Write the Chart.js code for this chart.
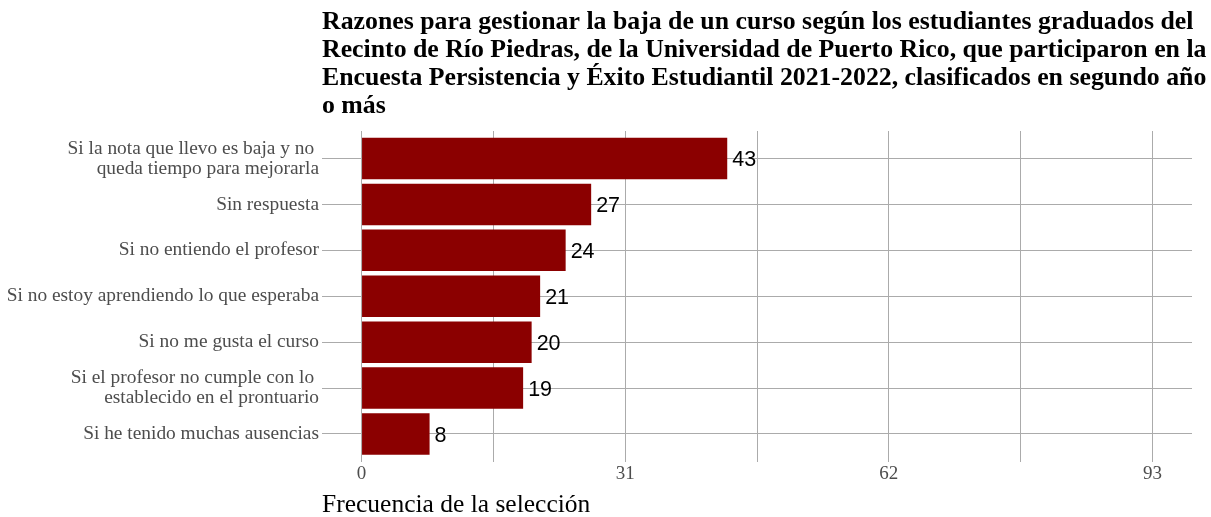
<!DOCTYPE html>
<html><head><meta charset="utf-8">
<script src="https://cdn.jsdelivr.net/npm/chart.js@4.4.1/dist/chart.umd.min.js"></script>
<style>html,body{margin:0;padding:0;background:#fff}#wrap{width:1211px;height:517px;position:relative}</style>
</head><body><div id="wrap"><canvas id="c" width="1211" height="517"></canvas></div>
<script>
const titleLines = [
  "Razones para gestionar la baja de un curso según los estudiantes graduados del",
  "Recinto de Río Piedras, de la Universidad de Puerto Rico, que participaron en la",
  "Encuesta Persistencia y Éxito Estudiantil 2021-2022, clasificados en segundo año",
  "o más"
];
const categories = [
  ["Si la nota que llevo es baja y no ", "queda tiempo para mejorarla"],
  ["Sin respuesta"],
  ["Si no entiendo el profesor"],
  ["Si no estoy aprendiendo lo que esperaba"],
  ["Si no me gusta el curso"],
  ["Si el profesor no cumple con lo ", "establecido en el prontuario"],
  ["Si he tenido muchas ausencias"]
];
const values = [43, 27, 24, 21, 20, 19, 8];
const xTicks = [0, 31, 62, 93];
const xMinorTicks = [15.5, 46.5, 77.5];
const xAxisTitle = "Frecuencia de la selección";

const SERIF = "'Liberation Serif','Times New Roman',serif";
const SANS = "'Liberation Sans',Arial,sans-serif";

const titlePlugin = {
  id: 'customTitle',
  afterDraw(chart) {
    const ctx = chart.ctx;
    ctx.save();
    ctx.font = "bold 25.8px " + SERIF;
    ctx.fillStyle = "#000";
    ctx.textAlign = "left";
    ctx.textBaseline = "middle";
    titleLines.forEach((l, i) => ctx.fillText(l, chart.chartArea.left, 22 + i * 28));
    ctx.restore();
  }
};
const valueLabels = {
  id: 'valueLabels',
  afterDatasetsDraw(chart) {
    const ctx = chart.ctx;
    const meta = chart.getDatasetMeta(0);
    ctx.save();
    ctx.font = "21.5px " + SANS;
    ctx.fillStyle = "#000";
    ctx.textAlign = "left";
    ctx.textBaseline = "middle";
    meta.data.forEach((bar, i) => {
      ctx.fillText(String(values[i]), bar.x + 5, bar.y + 2);
    });
    ctx.restore();
  }
};

const allX = xTicks.concat(xMinorTicks).sort((a, b) => a - b);
const X_MIN = -4.65, X_MAX = 97.65, Y_MIN = -0.6, Y_MAX = categories.length - 1 + 0.6;

new Chart(document.getElementById('c'), {
  type: 'bar',
  data: {
    datasets: [{
      data: values.map((v, i) => ({ x: v, y: i })),
      backgroundColor: '#8B0000',
      borderWidth: 0,
      barPercentage: 0.905,
      categoryPercentage: 1.0
    }]
  },
  options: {
    indexAxis: 'y',
    responsive: false,
    animation: false,
    layout: { padding: { top: 131, right: 19, left: 0, bottom: 0 } },
    plugins: { legend: { display: false }, tooltip: { enabled: false }, title: { display: false } },
    scales: {
      x: {
        type: 'linear',
        bounds: 'data',
        offset: false,
        min: X_MIN, max: X_MAX,
        afterBuildTicks(s) { s.ticks = allX.map(v => ({ value: v })); s.min = X_MIN; s.max = X_MAX; },
        afterFit(s) { s.height = 55.5; },
        ticks: {
          autoSkip: false, maxRotation: 0, padding: 1,
          color: '#4d4d4d',
          font: { family: SERIF, size: 19 },
          callback: v => xTicks.includes(v) ? String(v) : ''
        },
        grid: { color: '#ababab', lineWidth: 1, drawTicks: false, offset: false },
        border: { display: false },
        title: {
          display: true, text: xAxisTitle, align: 'start',
          color: '#000', font: { family: SERIF, size: 25.5 }, padding: { top: 6, bottom: -4 }
        }
      },
      y: {
        type: 'linear',
        bounds: 'data',
        reverse: true,
        offset: false,
        min: Y_MIN, max: Y_MAX,
        afterBuildTicks(s) { s.ticks = categories.map((c, i) => ({ value: i })); s.min = Y_MIN; s.max = Y_MAX; },
        afterFit(s) { s.width = 322; },
        ticks: {
          autoSkip: false, padding: 3,
          color: '#4d4d4d',
          font: { family: SERIF, size: 19.4, lineHeight: 1.03 },
          callback: (v) => categories[v] ? (categories[v].length > 1 ? categories[v] : categories[v][0]) : ''
        },
        grid: { color: '#ababab', lineWidth: 1, drawTicks: false, offset: false },
        border: { display: false }
      }
    }
  },
  plugins: [titlePlugin, valueLabels]
});
</script></body></html>
